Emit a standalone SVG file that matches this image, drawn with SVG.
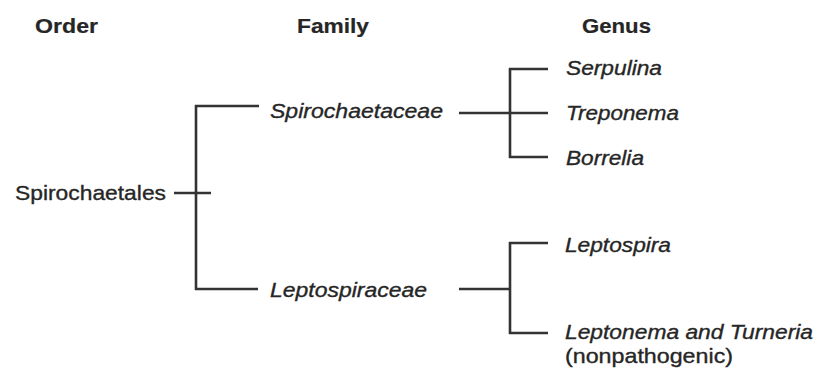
<svg xmlns="http://www.w3.org/2000/svg" width="816" height="369" viewBox="0 0 816 369">
<style>
text{font-family:"Liberation Sans",Arial,sans-serif;font-size:21px;fill:#262626;stroke:#262626;stroke-width:0.35}
.h{font-weight:bold;stroke-width:0.2}
.i{font-style:italic}
.c line{stroke:#333;stroke-width:2.6;stroke-linecap:butt}
</style>
<rect width="816" height="369" fill="#fff"/>
<g id="headers">
<text class="h" x="35" y="33" textLength="63" lengthAdjust="spacingAndGlyphs">Order</text>
<text class="h" x="297" y="33" textLength="72" lengthAdjust="spacingAndGlyphs">Family</text>
<text class="h" x="582" y="33" textLength="69" lengthAdjust="spacingAndGlyphs">Genus</text>
</g>
<g class="c" id="connectors">
<line x1="174" y1="193" x2="211" y2="193"/>
<line x1="196" y1="105" x2="196" y2="290"/>
<line x1="195" y1="106" x2="259" y2="106"/>
<line x1="195" y1="289" x2="258" y2="289"/>
<line x1="459" y1="113" x2="548" y2="113"/>
<line x1="510" y1="68" x2="510" y2="158"/>
<line x1="509" y1="69" x2="548" y2="69"/>
<line x1="509" y1="157" x2="548" y2="157"/>
<line x1="459" y1="289" x2="510" y2="289"/>
<line x1="510" y1="242" x2="510" y2="334"/>
<line x1="509" y1="243" x2="548" y2="243"/>
<line x1="509" y1="333" x2="548" y2="333"/>
</g>
<g id="spirochaetales"><text x="15" y="200" textLength="151" lengthAdjust="spacingAndGlyphs">Spirochaetales</text></g>
<g id="spirochaetaceae"><text class="i" x="270" y="118" textLength="173" lengthAdjust="spacingAndGlyphs">Spirochaetaceae</text></g>
<g id="leptospiraceae"><text class="i" x="270" y="297" textLength="157" lengthAdjust="spacingAndGlyphs">Leptospiraceae</text></g>
<g id="serpulina"><text class="i" x="566" y="75" textLength="96" lengthAdjust="spacingAndGlyphs">Serpulina</text></g>
<g id="treponema"><text class="i" x="566" y="120" textLength="113" lengthAdjust="spacingAndGlyphs">Treponema</text></g>
<g id="borrelia"><text class="i" x="566" y="165" textLength="78" lengthAdjust="spacingAndGlyphs">Borrelia</text></g>
<g id="leptospira"><text class="i" x="565" y="252" textLength="106" lengthAdjust="spacingAndGlyphs">Leptospira</text></g>
<g id="leptonema">
<text class="i" x="565" y="339" textLength="248" lengthAdjust="spacingAndGlyphs">Leptonema and Turneria</text>
<text x="565" y="363" textLength="168" lengthAdjust="spacingAndGlyphs">(nonpathogenic)</text>
</g>
</svg>
